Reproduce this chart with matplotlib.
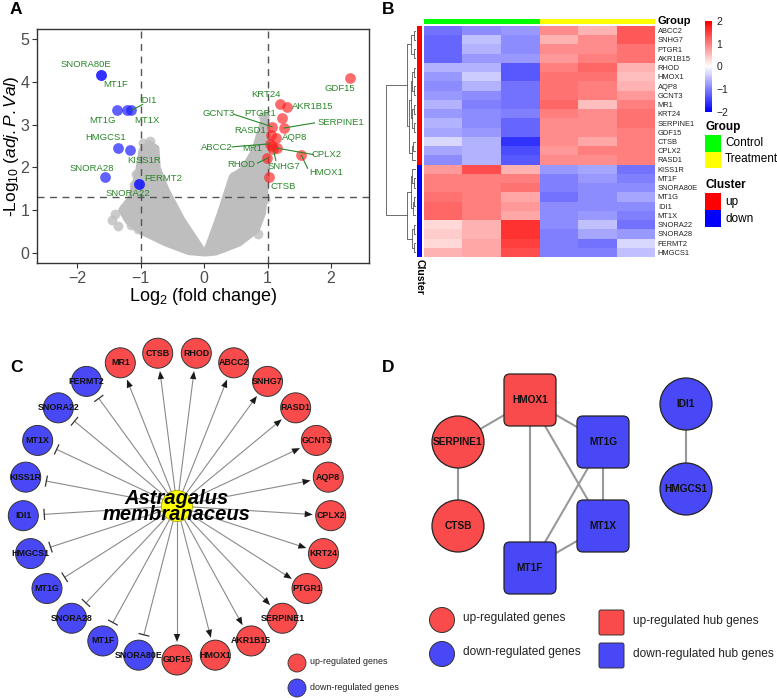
import numpy as np
import matplotlib
matplotlib.use("Agg")
import matplotlib.pyplot as plt
from matplotlib.patches import Circle, FancyBboxPatch, Rectangle, Polygon
from matplotlib.colors import LinearSegmentedColormap, ListedColormap

plt.rcParams['font.family'] = ['Liberation Sans', 'DejaVu Sans']
plt.rcParams['mathtext.fontset'] = 'custom'
plt.rcParams['mathtext.rm'] = 'Liberation Sans'
plt.rcParams['mathtext.it'] = 'Liberation Sans:italic'
plt.rcParams['mathtext.bf'] = 'Liberation Sans:bold'

RED = '#F94B4B'
BLUE = '#4848F6'
TXT_GREEN = '#2B862B'

# ---------------- A: volcano plot
up_genes = ['GDF15', 'KRT24', 'AKR1B15', 'PTGR1', 'SERPINE1', 'GCNT3', 'RASD1', 'AQP8',
            'ABCC2', 'MR1', 'CPLX2', 'SNHG7', 'HMOX1', 'RHOD', 'CTSB']
up_logfc = [2.30, 1.19, 1.31, 1.23, 1.26, 1.07, 1.05, 1.13, 1.03, 1.07, 1.15, 1.09, 1.53, 0.99, 1.02]
up_logp = [4.10, 3.49, 3.42, 3.15, 2.92, 2.95, 2.75, 2.68, 2.55, 2.50, 2.45, 2.42, 2.29, 2.21, 1.77]

down_genes = ['SNORA80E', 'MT1F', 'MT1G', 'MT1X', 'IDI1', 'HMGCS1', 'KISS1R', 'SNORA28',
              'SNORA22', 'FERMT2']
down_logfc = [-1.63, -1.63, -1.38, -1.22, -1.15, -1.36, -1.17, -1.57, -1.03, -1.03]
down_logp = [4.17, 4.17, 3.33, 3.33, 3.33, 2.45, 2.40, 1.77, 1.62, 1.62]

# outline of the dense cloud of non-significant genes (two arms of the "V")
ns_left_x = [0.0, -0.24, -0.60, -0.98, -1.20, -1.30, -1.14, -1.03, -0.98, -0.87,
             -0.76, -0.74, -0.60, -0.35, -0.05]
ns_left_y = [0.0, 0.03, 0.23, 0.50, 0.75, 1.00, 1.31, 1.94, 2.40, 2.55,
             2.45, 1.99, 1.47, 0.77, 0.10]
ns_right_x = [0.02, 0.18, 0.55, 0.82, 0.92, 0.98, 1.00, 0.97, 0.90, 0.80, 0.62, 0.44, 0.25, 0.08]
ns_right_y = [0.0, 0.02, 0.23, 0.54, 0.93, 1.78, 2.60, 3.22, 2.90, 2.40, 1.95, 1.77, 0.90, 0.20]
ns_x = [-1.45, -1.36, -1.26, -1.05, -0.97, -0.85, -0.92, -1.08, -0.70, 0.93, 0.97, 0.96,
        0.62, 0.47, 0.85, -0.40, 0.30, -1.40, -1.15, -1.10]
ns_y = [0.77, 0.62, 1.05, 0.55, 2.58, 2.62, 1.25, 1.85, 0.35, 3.20, 2.85, 1.25,
        2.05, 1.80, 0.45, 0.20, 0.15, 0.90, 0.65, 1.60]

label_pos = {
    'SNORA80E': (-1.86, 4.40), 'MT1F': (-1.40, 3.93), 'IDI1': (-0.89, 3.57),
    'MT1G': (-1.60, 3.10), 'MT1X': (-0.90, 3.09), 'HMGCS1': (-1.56, 2.69),
    'KISS1R': (-0.95, 2.17), 'SNORA28': (-1.77, 1.98), 'FERMT2': (-0.64, 1.75),
    'SNORA22': (-1.21, 1.40), 'GDF15': (2.14, 3.85), 'KRT24': (0.98, 3.71),
    'AKR1B15': (1.71, 3.43), 'PTGR1': (0.88, 3.27), 'GCNT3': (0.23, 3.27),
    'SERPINE1': (2.15, 3.05), 'RASD1': (0.73, 2.87), 'AQP8': (1.42, 2.70),
    'ABCC2': (0.20, 2.46), 'MR1': (0.76, 2.43), 'CPLX2': (1.93, 2.29),
    'HMOX1': (1.93, 1.89), 'SNHG7': (1.25, 2.02), 'RHOD': (0.58, 2.06),
    'CTSB': (1.24, 1.55)}
leader_start = {
    'IDI1': (-0.97, 3.47), 'GCNT3': (0.47, 3.24), 'SERPINE1': (1.74, 3.04),
    'ABCC2': (0.44, 2.48), 'CPLX2': (1.72, 2.30), 'HMOX1': (1.63, 1.98),
    'SNHG7': (1.13, 2.16), 'RHOD': (0.84, 2.10)}

# ---------------- B: heatmap
heat_rows = ['ABCC2', 'SNHG7', 'PTGR1', 'AKR1B15', 'RHOD', 'HMOX1', 'AQP8', 'GCNT3', 'MR1',
             'KRT24', 'SERPINE1', 'GDF15', 'CTSB', 'CPLX2', 'RASD1', 'KISS1R', 'MT1F',
             'SNORA80E', 'MT1G', 'IDI1', 'MT1X', 'SNORA22', 'SNORA28', 'FERMT2', 'HMGCS1']
heat_vals = [
    [-1.1, -0.9, -0.8, 0.9, 0.6, 1.3],
    [-1.2, -0.5, -0.9, 0.6, 0.9, 1.3],
    [-1.2, -0.6, -0.9, 0.9, 0.9, 1.1],
    [-1.2, -0.8, -0.8, 0.8, 1.0, 1.1],
    [-0.6, -0.6, -1.3, 1.0, 1.2, 0.6],
    [-0.8, -0.4, -1.3, 1.1, 1.1, 0.5],
    [-0.9, -0.6, -1.1, 1.1, 1.0, 0.6],
    [-0.8, -0.9, -1.1, 1.1, 1.0, 0.8],
    [-0.6, -1.0, -1.1, 1.2, 0.5, 1.0],
    [-0.8, -0.9, -1.0, 1.0, 0.9, 1.1],
    [-0.6, -0.9, -1.2, 0.9, 0.9, 1.1],
    [-0.7, -0.8, -1.2, 0.9, 0.9, 1.0],
    [-0.3, -0.6, -1.6, 0.9, 0.7, 1.0],
    [-0.7, -0.6, -1.4, 0.8, 1.0, 1.0],
    [-0.9, -0.6, -1.3, 0.9, 0.9, 1.0],
    [0.8, 1.4, 0.6, -0.8, -0.7, -1.1],
    [1.0, 1.0, 1.0, -1.0, -0.8, -1.0],
    [1.0, 1.0, 1.1, -1.0, -0.9, -0.9],
    [1.1, 1.0, 0.7, -1.1, -0.9, -0.7],
    [1.2, 1.0, 0.8, -0.9, -0.9, -0.9],
    [1.2, 1.0, 0.7, -0.9, -0.8, -1.0],
    [0.3, 0.6, 1.6, -0.9, -0.5, -1.1],
    [0.4, 0.6, 1.6, -1.0, -0.7, -0.8],
    [0.3, 0.7, 1.5, -1.0, -1.1, -0.3],
    [0.6, 0.7, 1.4, -1.0, -1.0, -0.5]]
sample_group = [0, 0, 0, 1, 1, 1]          # 0 = Control, 1 = Treatment
row_cluster = [0] * 15 + [1] * 10          # 0 = up, 1 = down
# row dendrogram: (left, right, height)
row_tree = (
    ((((0, 1, 0.08), (2, 3, 0.07), 0.16),
      (((((4, 5, 0.06), (6, 7, 0.07), 0.12), ((8, 9, 0.08), (10, 11, 0.06), 0.13), 0.18),
        ((12, 13, 0.09), 14, 0.12), 0.22)), 0.30),
     (((15, (16, 17, 0.07), 0.13), ((18, 19, 0.06), 20, 0.10), 0.18),
      ((21, 22, 0.08), (23, 24, 0.07), 0.15), 0.30),
     1.0))

# ---------------- C: regulation network
c_genes = ['GDF15', 'HMOX1', 'AKR1B15', 'SERPINE1', 'PTGR1', 'KRT24', 'CPLX2', 'AQP8',
           'GCNT3', 'RASD1', 'SNHG7', 'ABCC2', 'RHOD', 'CTSB', 'MR1', 'FERMT2', 'SNORA22',
           'MT1X', 'KISS1R', 'IDI1', 'HMGCS1', 'MT1G', 'SNORA28', 'MT1F', 'SNORA80E']
c_up = [True] * 15 + [False] * 10

# ---------------- D: PPI network
d_nodes = ['HMOX1', 'SERPINE1', 'CTSB', 'MT1G', 'MT1X', 'MT1F', 'IDI1', 'HMGCS1']
d_up = [True, True, True, False, False, False, False, False]
d_hub = [True, False, False, True, True, True, False, False]
d_edges = [('SERPINE1', 'HMOX1'), ('SERPINE1', 'CTSB'), ('HMOX1', 'MT1G'),
           ('HMOX1', 'MT1F'), ('HMOX1', 'MT1X'), ('MT1G', 'MT1X'), ('MT1G', 'MT1F'),
           ('MT1X', 'MT1F'), ('IDI1', 'HMGCS1')]
d_layout = {'HMOX1': (530, 400), 'SERPINE1': (458, 442), 'CTSB': (458, 526),
            'MT1G': (603, 442), 'MT1X': (603, 526), 'MT1F': (530, 568),
            'IDI1': (686, 404), 'HMGCS1': (686, 489)}

W, H = 777, 698
fig = plt.figure(figsize=(W / 100, H / 100), dpi=100)


def px_axes(x0, y0, x1, y1):
    return fig.add_axes([x0 / W, 1 - y1 / H, (x1 - x0) / W, (y1 - y0) / H])


# overlay in pixel coordinates (panels C, D, legends, panel letters)
ov = px_axes(0, 0, W, H)
ov.set_xlim(0, W)
ov.set_ylim(H, 0)
ov.axis('off')

# ===== A
ax = px_axes(37, 29, 369, 263)
ax.fill(ns_left_x, ns_left_y, color='#BEBEBE', lw=5, ec='#BEBEBE', joinstyle='round', zorder=1)
ax.fill(ns_right_x, ns_right_y, color='#BEBEBE', lw=5, ec='#BEBEBE', joinstyle='round', zorder=1)
ax.scatter(ns_x, ns_y, s=50, color='#BEBEBE', alpha=0.8, lw=0, zorder=1)
ax.axvline(-1, color='#555555', ls=(0, (5, 4)), lw=1, zorder=2)
ax.axvline(1, color='#555555', ls=(0, (5, 4)), lw=1, zorder=2)
ax.axhline(-np.log10(0.05), color='#555555', ls=(0, (5, 4)), lw=1, zorder=2)
ax.scatter(up_logfc, up_logp, s=60, color='#FF1E1E', alpha=0.65, lw=0, zorder=3)
ax.scatter(down_logfc, down_logp, s=60, color='#1E1EFF', alpha=0.7, lw=0, zorder=3)
pts = dict(zip(up_genes + down_genes,
               zip(up_logfc + down_logfc, up_logp + down_logp)))
for g, (lx, ly) in label_pos.items():
    ax.text(lx, ly, g, color=TXT_GREEN, fontsize=6.8, ha='center', va='center', zorder=5)
for g, (sx, sy) in leader_start.items():
    ex, ey = pts[g]
    ax.plot([sx, ex], [sy, ey], color=TXT_GREEN, lw=0.8, zorder=4)
ax.set_xlim(-2.635, 2.598)
ax.set_ylim(-0.234, 5.234)
ax.set_xticks([-2, -1, 0, 1, 2])
ax.set_yticks([0, 1, 2, 3, 4, 5])
ax.tick_params(colors='#333333', labelcolor='#4D4D4D', labelsize=11.5, length=3.5, width=0.8,
               pad=2)
for s in ax.spines.values():
    s.set_color('#333333')
    s.set_linewidth(1.0)
ax.set_xlabel(r'Log$_2$ (fold change)', fontsize=13, labelpad=0)
ax.set_ylabel(r'-Log$_{10}$ ($\mathit{adj.P.Val}$)', fontsize=12.5, va='center')
ax.yaxis.set_label_coords(-0.077, 0.5)

# ===== B
cmap = LinearSegmentedColormap.from_list('bwr_ph', ['#0000FF', '#FFFFFF', '#FF0000'])
hm = np.array(heat_vals)
axh = px_axes(424, 26, 655, 257)
axh.pcolormesh(np.arange(hm.shape[1] + 1), np.arange(hm.shape[0] + 1), hm,
               cmap=cmap, vmin=-2, vmax=2)
axh.set_xlim(0, hm.shape[1])
axh.set_ylim(hm.shape[0], 0)
axh.set_xticks([])
axh.yaxis.tick_right()
axh.set_yticks(np.arange(len(heat_rows)) + 0.5)
axh.set_yticklabels(heat_rows, fontsize=5.4, color='#222222')
axh.tick_params(axis='y', length=0, pad=2)
for s in axh.spines.values():
    s.set_visible(False)

axg = px_axes(424, 19, 655, 24)
axg.pcolormesh(np.arange(7), [0, 1], np.array([sample_group]),
               cmap=ListedColormap(['#00FF00', '#FFFF00']), vmin=0, vmax=1)
axg.axis('off')
axc = px_axes(417, 26, 422, 257)
axc.pcolormesh([0, 1], np.arange(26), np.array(row_cluster)[:, None],
               cmap=ListedColormap(['#FF0000', '#0000FF']), vmin=0, vmax=1)
axc.set_ylim(25, 0)
axc.axis('off')

axd = px_axes(386, 26, 416, 257)


def draw_tree(node):
    if isinstance(node, int):
        return node + 0.5, 0.0
    left, right, h = node
    yl, hl = draw_tree(left)
    yr, hr = draw_tree(right)
    axd.plot([hl, h, h, hr], [yl, yl, yr, yr], color='#555555', lw=0.6)
    return (yl + yr) / 2, h


draw_tree(row_tree)
axd.set_xlim(1.0, 0.0)
axd.set_ylim(25, 0)
axd.axis('off')

axcb = px_axes(705, 21, 712, 112)
axcb.pcolormesh([0, 1], np.linspace(-2, 2, 101), np.linspace(-2, 2, 100)[:, None],
                cmap=cmap, vmin=-2, vmax=2)
axcb.set_ylim(-2, 2)
axcb.set_xticks([])
axcb.yaxis.tick_right()
axcb.set_yticks([-2, -1, 0, 1, 2])
axcb.set_yticklabels(['\u22122', '\u22121', '0', '1', '2'])
axcb.tick_params(axis='y', length=0, pad=3, labelsize=7.5, labelcolor='#222222')
for s in axcb.spines.values():
    s.set_visible(False)

ov.text(657, 21.5, 'Group', fontsize=8, fontweight='bold', ha='left', va='center')
ov.text(419.5, 259, 'Cluster', fontsize=7.5, fontweight='bold', ha='center', va='top',
        rotation=-90)
ov.text(705, 127, 'Group', fontsize=8.5, fontweight='bold', ha='left', va='center')
for i, (lab, col) in enumerate([('Control', '#00FF00'), ('Treatment', '#FFFF00')]):
    ov.add_patch(Rectangle((705, 135 + 16.5 * i), 16, 16.5, color=col, lw=0))
    ov.text(725, 143 + 16.5 * i, lab, fontsize=8.5, ha='left', va='center')
ov.text(705, 185, 'Cluster', fontsize=8.5, fontweight='bold', ha='left', va='center')
for i, (lab, col) in enumerate([('up', '#FF0000'), ('down', '#0000FF')]):
    ov.add_patch(Rectangle((705, 193 + 17 * i), 16, 17, color=col, lw=0))
    ov.text(725, 201.5 + 17 * i, lab, fontsize=8.5, ha='left', va='center')

# ===== C
cx, cy, R, rn = 177, 506, 154, 15
for k, (g, up) in enumerate(zip(c_genes, c_up)):
    a = np.deg2rad(-90 + 360 / len(c_genes) * k)
    ux, uy = np.cos(a), -np.sin(a)
    nx, ny = cx + R * ux, cy + R * uy
    px_, py_ = -uy, ux
    if up:
        tip = R - rn - 3
        base = tip - 8
        ov.plot([cx, cx + base * ux], [cy, cy + base * uy], color='#8A8A8A', lw=0.8, zorder=2)
        tri = [(cx + tip * ux, cy + tip * uy),
               (cx + base * ux + 3.2 * px_, cy + base * uy + 3.2 * py_),
               (cx + base * ux - 3.2 * px_, cy + base * uy - 3.2 * py_)]
        ov.add_patch(Polygon(tri, closed=True, color='#1A1A1A', lw=0, zorder=2))
    else:
        bar = R - rn - 6
        ov.plot([cx, cx + bar * ux], [cy, cy + bar * uy], color='#8A8A8A', lw=0.8, zorder=2)
        ov.plot([cx + bar * ux + 5 * px_, cx + bar * ux - 5 * px_],
                [cy + bar * uy + 5 * py_, cy + bar * uy - 5 * py_],
                color='#333333', lw=0.9, zorder=2)
    ov.add_patch(Circle((nx, ny), rn, fc=RED if up else BLUE, ec='#333333', lw=0.7, zorder=3))
    ov.text(nx, ny, g, fontsize=6.4, fontweight='bold', ha='center', va='center',
            color='#111111', zorder=4)
ov.add_patch(Circle((cx, cy), 15.5, fc='#FFFF00', ec='#999900', lw=0.5, zorder=3))
ov.text(cx, 498, 'Astragalus', fontsize=14.5, fontweight='bold', fontstyle='italic',
        ha='center', va='center', zorder=5)
ov.text(cx, 514, 'membranaceus', fontsize=14.5, fontweight='bold', fontstyle='italic',
        ha='center', va='center', zorder=5)
for i, (lab, col) in enumerate([('up-regulated genes', RED), ('down-regulated genes', BLUE)]):
    ov.add_patch(Circle((297, 663 + 25 * i), 9, fc=col, ec='#333333', lw=0.6))
    ov.text(310, 662 + 25 * i, lab, fontsize=6.4, ha='left', va='center', color='#222222')

# ===== D
for a_, b_ in d_edges:
    (x1, y1), (x2, y2) = d_layout[a_], d_layout[b_]
    ov.plot([x1, x2], [y1, y2], color='#999999', lw=1.5, zorder=2)
for g, up, hub in zip(d_nodes, d_up, d_hub):
    x, y = d_layout[g]
    col = RED if up else BLUE
    if hub:
        ov.add_patch(FancyBboxPatch((x - 20, y - 20), 40, 40,
                                    boxstyle='round,pad=6,rounding_size=6',
                                    fc=col, ec='#222222', lw=0.9, zorder=3))
    else:
        ov.add_patch(Circle((x, y), 26, fc=col, ec='#222222', lw=0.9, zorder=3))
    ov.text(x, y, g, fontsize=7.3, fontweight='bold', ha='center', va='center',
            color='#111111', zorder=4)
for i, (lab, col) in enumerate([('up-regulated genes', RED), ('down-regulated genes', BLUE)]):
    ov.add_patch(Circle((442, 620 + 34 * i), 12.5, fc=col, ec='#333333', lw=0.7))
    ov.text(463, 618 + 34 * i, lab, fontsize=8.6, ha='left', va='center', color='#222222')
for i, (lab, col) in enumerate([('up-regulated hub genes', RED),
                                ('down-regulated hub genes', BLUE)]):
    ov.add_patch(FancyBboxPatch((601, 612 + 33 * i), 21, 21,
                                boxstyle='round,pad=2,rounding_size=2',
                                fc=col, ec='#333333', lw=0.7))
    ov.text(633, 621 + 33 * i, lab, fontsize=8.6, ha='left', va='center', color='#222222')

# panel letters
for lab, (x, y) in zip('ABCD', [(10, 10), (382, 10), (10, 368), (382, 368)]):
    ov.text(x, y, lab, fontsize=12.5, fontweight='bold', ha='left', va='center')

fig.savefig('out.png', dpi=100)
